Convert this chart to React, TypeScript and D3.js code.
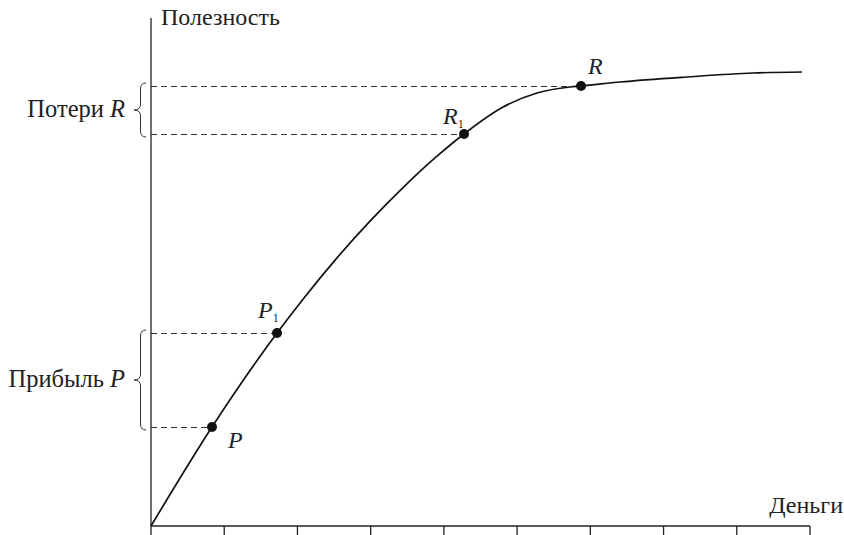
import React from 'react';
import * as d3 from 'd3';

// utility curve (x: money ticks 0..9, y: arbitrary utility units)
const curveX = [0, 0.833, 1.721, 2.076, 2.54, 2.991, 3.442, 3.906, 4.275, 4.808, 5.272, 5.722, 5.873, 6.405, 7.32, 8.222, 8.891];
const curveY = [0, 1.949, 3.799, 4.465, 5.278, 6.002, 6.663, 7.28, 7.717, 8.248, 8.524, 8.642, 8.661, 8.74, 8.839, 8.917, 8.937];

// marked points on the curve
const markNames = ['P', 'P', 'R', 'R'];
const markSubs = ['', '1', '1', ''];
const markX = [0.833, 1.721, 4.275, 5.873];
const markY = [1.949, 3.799, 7.717, 8.661];

const xTicks = [0, 1, 2, 3, 4, 5, 6, 7, 8, 9];

// braces: word, letter, lower and upper mark index
const braceWords = ['Прибыль', 'Потери'];
const braceLetters = ['P', 'R'];
const braceLow = [0, 2];
const braceHigh = [1, 3];

const width = 844;
const height = 535;
const font = "'Liberation Serif', 'DejaVu Serif', serif";

export default function App() {
  const x = d3.scaleLinear().domain([0, 9]).range([151, 810]);
  const y = d3.scaleLinear().domain([0, 10]).range([526, 18]);
  // snap thin horizontal lines to the pixel grid so dashes stay crisp
  const crisp = (v: number) => Math.round(v) + 0.5;

  const line = d3.line<number>()
    .x((_, i) => x(curveX[i]))
    .y((_, i) => y(curveY[i]))
    .curve(d3.curveMonotoneX);

  const brace = (y0: number, y1: number) => {
    const xr = 146, xm = 140.5, xt = 134, r = 6;
    const mid = (y0 + y1) / 2;
    return `M${xr},${y0} Q${xm},${y0} ${xm},${y0 + r} L${xm},${mid - r} Q${xm},${mid} ${xt},${mid} ` +
      `Q${xm},${mid} ${xm},${mid + r} L${xm},${y1 - r} Q${xm},${y1} ${xr},${y1}`;
  };

  const labelOffsets = [[16, 21], [-19, -15], [-21, -10], [7, -12]];

  return (
    <svg width={width} height={height} style={{ position: 'absolute', left: 0, top: 0, background: '#fff', fontFamily: font }}>
      {/* axes */}
      <line x1={x(0)} x2={x(0)} y1={y(0)} y2={y(10)} stroke="#222" strokeWidth={1.3} />
      <line x1={x(0)} x2={x(9)} y1={y(0)} y2={y(0)} stroke="#222" strokeWidth={1.3} />
      {xTicks.map(t => (
        <line key={t} x1={x(t)} x2={x(t)} y1={y(0)} y2={y(0) + 9} stroke="#222" strokeWidth={1.3} />
      ))}
      <text x={161} y={25} fontSize={24} fill="#222">Полезность</text>
      <text x={843} y={513} fontSize={24} fill="#222" textAnchor="end">Деньги</text>

      {/* dashed guides */}
      {markX.map((mx, i) => (
        <line key={i} x1={x(0)} x2={x(mx)} y1={crisp(y(markY[i]))} y2={crisp(y(markY[i]))}
          stroke="#333" strokeWidth={1.2} strokeDasharray="6,4" />
      ))}

      {/* braces and their labels */}
      {braceWords.map((w, i) => {
        const y0 = y(markY[braceHigh[i]]) - 3;
        const y1 = y(markY[braceLow[i]]) + 3;
        return (
          <g key={w}>
            <path d={brace(y0, y1)} fill="none" stroke="#333" strokeWidth={1} />
            <text x={125} y={(y0 + y1) / 2 + 7} fontSize={24.5} fill="#222" textAnchor="end">
              {w} <tspan fontStyle="italic">{braceLetters[i]}</tspan>
            </text>
          </g>
        );
      })}

      {/* utility curve */}
      <path d={line(curveX) ?? ''} fill="none" stroke="#111" strokeWidth={1.7} />

      {/* marked points */}
      {markX.map((mx, i) => (
        <g key={i}>
          <circle cx={x(mx)} cy={y(markY[i])} r={5} fill="#111" />
          <text x={x(mx) + labelOffsets[i][0]} y={y(markY[i]) + labelOffsets[i][1]}
            fontSize={24} fontStyle="italic" fill="#222">
            {markNames[i]}
            {markSubs[i] && <tspan fontSize={12} fontStyle="normal" dy={4}>{markSubs[i]}</tspan>}
          </text>
        </g>
      ))}
    </svg>
  );
}
